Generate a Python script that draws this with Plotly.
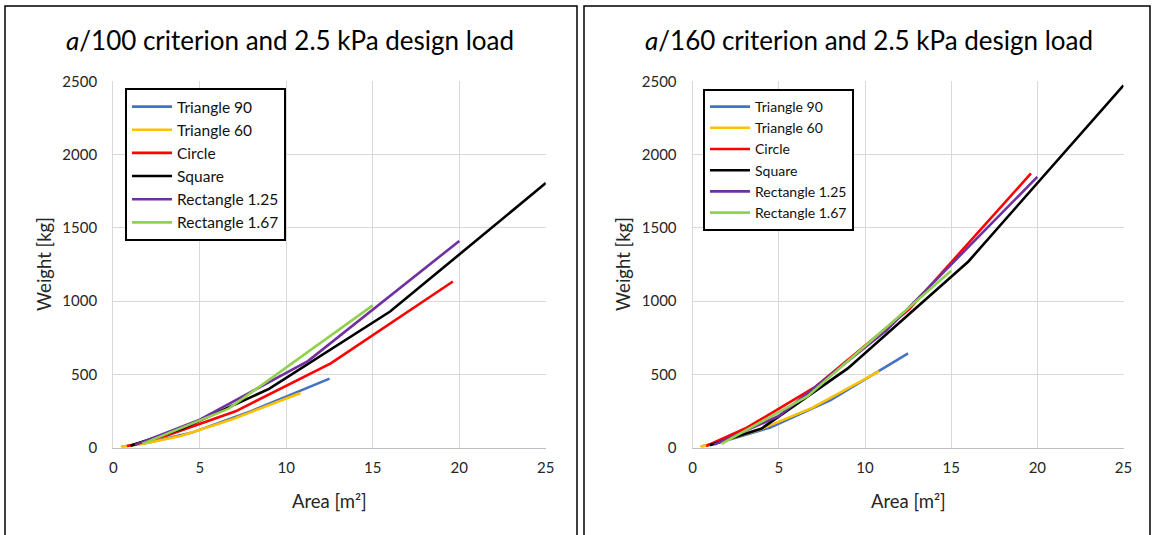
#! /usr/bin/env python

import plotly.graph_objects as go

W, H = 1154, 535

# areas [m2] for each shape
tri90_area = [0.5, 2, 4.5, 8, 12.5]
tri60_area = [0.43, 1.73, 3.9, 6.93, 10.83]
circle_area = [0.79, 3.14, 7.07, 12.57, 19.63]
square_area = [1, 4, 9, 16, 25]
rect125_area = [1.25, 5, 11.25, 20]
rect167_area = [1.67, 6.67, 15]

# weights [kg], a/100 criterion
tri90_w100 = [5, 32, 100, 250, 470]
tri60_w100 = [4, 25, 78, 195, 372]
circle_w100 = [8, 84, 247, 574, 1133]
square_w100 = [12, 130, 400, 928, 1805]
rect125_w100 = [18, 190, 590, 1410]
rect167_w100 = [25, 265, 970]

# weights [kg], a/160 criterion
tri90_w160 = [6, 50, 137, 324, 642]
tri60_w160 = [5, 42, 123, 270, 522]
circle_w160 = [10, 135, 410, 945, 1871]
square_w160 = [15, 130, 540, 1270, 2473]
rect125_w160 = [20, 215, 800, 1848]
rect167_w160 = [25, 350, 1206]

names = ["Triangle 90", "Triangle 60", "Circle", "Square", "Rectangle 1.25", "Rectangle 1.67"]
colors = ["#4472C4", "#FFC000", "#FF0000", "#000000", "#7030A0", "#92D050"]
areas = [tri90_area, tri60_area, circle_area, square_area, rect125_area, rect167_area]
w100 = [tri90_w100, tri60_w100, circle_w100, square_w100, rect125_w100, rect167_w100]
w160 = [tri90_w160, tri60_w160, circle_w160, square_w160, rect125_w160, rect167_w160]

titles = ["<i>a</i>/100 criterion and 2.5 kPa design load",
          "<i>a</i>/160 criterion and 2.5 kPa design load"]

FONT = "Lato, Carlito, Calibri, sans-serif"

fig = go.Figure()
for panel, weights in enumerate([w100, w160]):
    sfx = "" if panel == 0 else "2"
    for name, col, a, w in zip(names, colors, areas, weights):
        fig.add_trace(go.Scatter(x=a, y=w, mode="lines", name=name,
                                 line=dict(color=col, width=2.6),
                                 xaxis="x" + sfx, yaxis="y" + sfx,
                                 legend="legend" + sfx))

ydom = [(H - 447.5) / H, (H - 81.3) / H]
xdoms = [[113.3 / W, 545.8 / W], [692.7 / W, 1123.5 / W]]


def xaxis(dom, anchor):
    return dict(domain=dom, anchor=anchor, range=[0, 25], dtick=5,
                showgrid=True, gridcolor="#d9d9d9", gridwidth=1.3,
                showline=True, linecolor="#bfbfbf", linewidth=1.3,
                zeroline=False, ticks="", ticklabelstandoff=6, automargin=False,
                tickfont=dict(family=FONT, size=15, color="#262626"))


def yaxis(anchor):
    return dict(domain=ydom, anchor=anchor, range=[0, 2500], dtick=500,
                showgrid=True, gridcolor="#d9d9d9", gridwidth=1.3,
                showline=True, linecolor="#d9d9d9", linewidth=1.3,
                zeroline=False, ticks="", ticklabelstandoff=12, automargin=False,
                tickfont=dict(family=FONT, size=15, color="#262626"))


def legend(x, y, size):
    return dict(x=x, y=y, xanchor="left", yanchor="top", xref="paper", yref="paper",
                bgcolor="white", bordercolor="black", borderwidth=2,
                font=dict(family=FONT, size=size, color="#111111"),
                itemwidth=40, tracegroupgap=0)


layout = go.Layout(
    width=W, height=H, autosize=False,
    margin=dict(l=0, r=0, t=0, b=0, pad=0),
    paper_bgcolor="white", plot_bgcolor="white",
    showlegend=True,
    xaxis=xaxis(xdoms[0], "y"), yaxis=yaxis("x"),
    xaxis2=xaxis(xdoms[1], "y2"), yaxis2=yaxis("x2"),
    legend=legend(125 / W, (H - 88) / H, 15.5),
    legend2=legend(703 / W, (H - 89) / H, 14),
)
fig.update_layout(layout)

# panel frames
for x0, x1 in [(5, 577), (584, 1150)]:
    fig.add_shape(type="rect", xref="paper", yref="paper",
                  x0=x0 / W, x1=x1 / W, y0=-0.05, y1=(H - 6) / H,
                  line=dict(color="black", width=1.5))

for i, (dom, title) in enumerate(zip(xdoms, titles)):
    cx = (dom[0] + dom[1]) / 2
    tcx = [290, 869][i] / W
    fig.add_annotation(x=tcx, y=(H - 40) / H, xref="paper", yref="paper",
                       text=title, showarrow=False, xanchor="center", yanchor="middle",
                       font=dict(family=FONT, size=26, color="black"))
    fig.add_annotation(x=cx, y=(H - 501) / H, xref="paper", yref="paper",
                       text="Area [m²]", showarrow=False, xanchor="center", yanchor="middle",
                       font=dict(family=FONT, size=18.5, color="#262626"))
    fig.add_annotation(x=[44, 623][i] / W, y=(H - 264) / H, xref="paper", yref="paper",
                       text="Weight [kg]", showarrow=False, textangle=-90,
                       xanchor="center", yanchor="middle",
                       font=dict(family=FONT, size=18.5, color="#262626"))

fig.write_html("out.html", config={"displayModeBar": False},
               post_script="document.body.style.margin='0';")
